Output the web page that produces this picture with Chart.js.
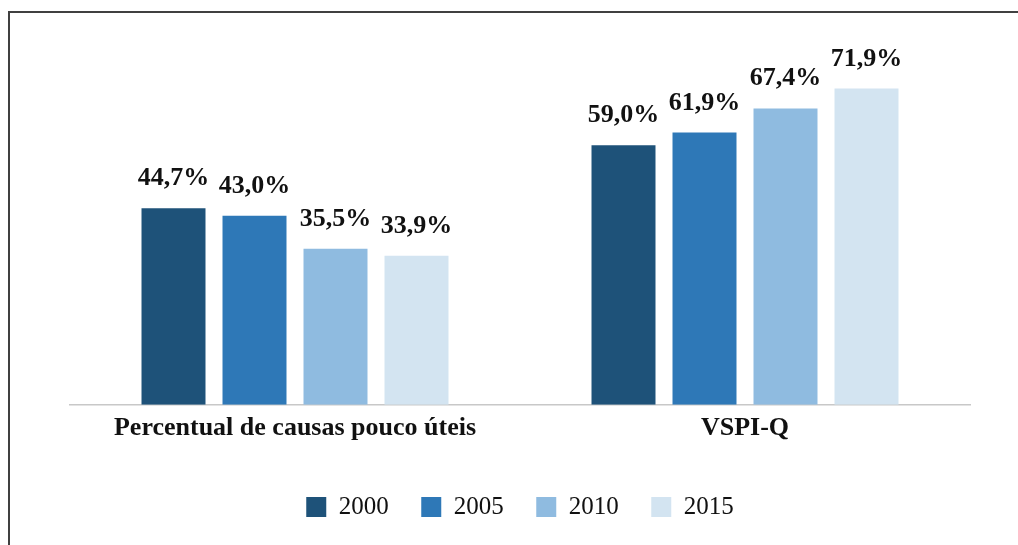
<!DOCTYPE html>
<html>
<head>
<meta charset="utf-8">
<script src="https://cdn.jsdelivr.net/npm/chart.js@4"></script>
<style>
  html, body { margin: 0; padding: 0; background: #fff; }
  #wrap { position: relative; width: 1018px; height: 545px; overflow: hidden; }
  #frame {
    position: absolute; left: 8px; top: 11px; width: 1020px; height: 540px;
    border-top: 2px solid #404040; border-left: 2px solid #404040;
  }
  #chart { position: absolute; left: 0; top: 0; }
</style>
</head>
<body>
<div id="wrap">
  <div id="frame"></div>
  <canvas id="chart" width="1018" height="545"></canvas>
</div>
<script>
// Categories and series (percent values)
const categories = ['Percentual de causas pouco úteis', 'VSPI-Q'];
const years = ['2000', '2005', '2010', '2015'];
const values2000 = [44.7, 59.0];
const values2005 = [43.0, 61.9];
const values2010 = [35.5, 67.4];
const values2015 = [33.9, 71.9];
const colors = ['#1e5279', '#2e78b7', '#8fbbe0', '#d3e4f1'];

const FONT = '"Liberation Serif", "DejaVu Serif", serif';

/**
 * Format value as "44,7%"
 */
function formatPct(v) {
  return v.toFixed(1).replace('.', ',') + '%';
}

// draws the value above every bar
const valueLabels = {
  id: 'valueLabels',
  afterDatasetsDraw(chart) {
    const ctx = chart.ctx;
    ctx.save();
    ctx.font = 'bold 26px ' + FONT;
    ctx.fillStyle = '#111';
    ctx.textAlign = 'center';
    ctx.textBaseline = 'alphabetic';
    chart.data.datasets.forEach((ds, i) => {
      const meta = chart.getDatasetMeta(i);
      meta.data.forEach((bar, j) => {
        ctx.fillText(formatPct(ds.data[j]), bar.x, bar.y - 23);
      });
    });
    ctx.restore();
  }
};

const seriesValues = [values2000, values2005, values2010, values2015];

new Chart(document.getElementById('chart').getContext('2d'), {
  type: 'bar',
  data: {
    labels: categories,
    datasets: years.map((y, i) => ({
      label: y,
      data: seriesValues[i],
      backgroundColor: colors[i],
      borderWidth: 0,
      categoryPercentage: 0.72,
      barPercentage: 0.79,
    })),
  },
  options: {
    responsive: false,
    animation: false,
    layout: { padding: { left: 70, right: 48, top: 53, bottom: 15.5 } },
    plugins: {
      tooltip: { enabled: false },
      legend: {
        position: 'bottom',
        labels: {
          boxWidth: 20,
          boxHeight: 20,
          padding: 32.5,
          color: '#111',
          font: { family: FONT, size: 25 },
        },
      },
    },
    scales: {
      y: { display: false, min: 0, max: 80 },
      x: {
        grid: { display: false, drawTicks: false },
        border: { display: true, color: '#c8c8c8', width: 1.5 },
        ticks: {
          color: '#111',
          padding: 8,
          font: { family: FONT, size: 26, weight: 'bold' },
        },
        afterFit(scale) { scale.height += 10; },
      },
    },
  },
  plugins: [valueLabels],
});
</script>
</body>
</html>
